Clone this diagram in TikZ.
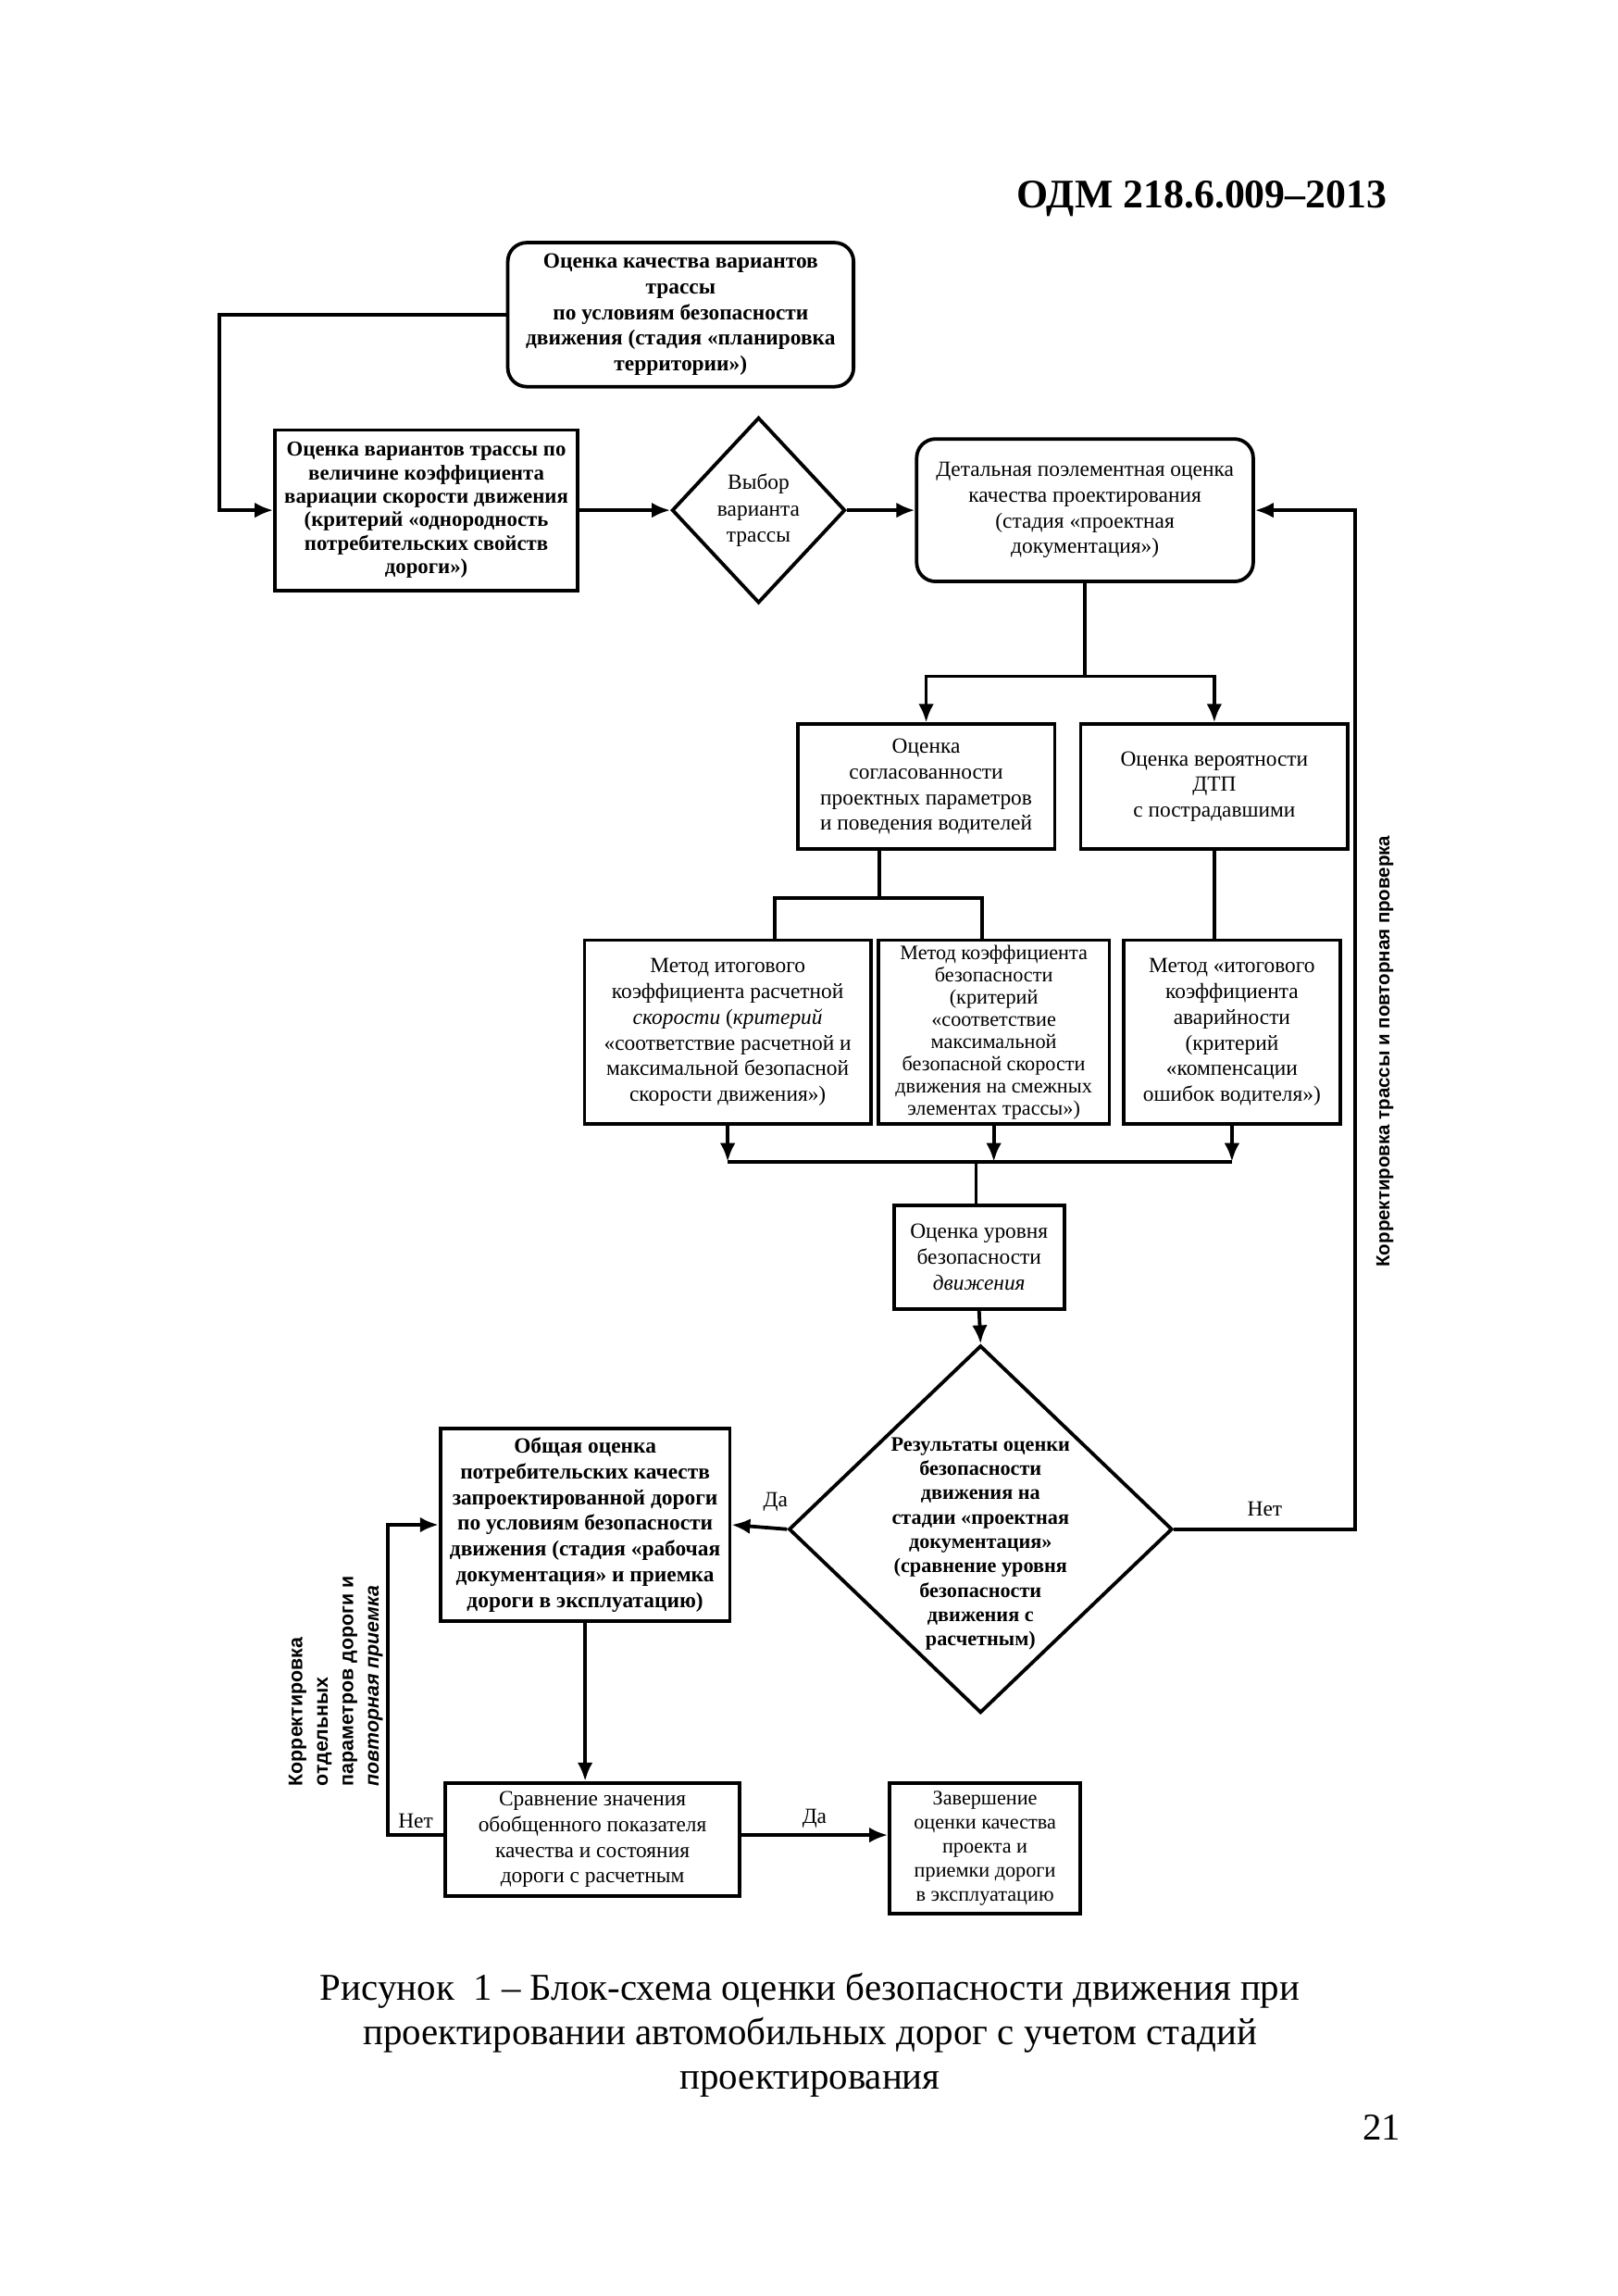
\documentclass[tikz,border=0pt]{standalone}
\usepackage{fontspec}
\setmainfont{Liberation Serif}
\setsansfont{Liberation Sans}
\usetikzlibrary{shapes.geometric,arrows.meta,positioning,calc}

\begin{document}
\begin{tikzpicture}[x=0.01909cm, y=-0.01909cm,
  blok/.style={draw, line width=1.3pt, align=center, inner sep=1pt, font=\fontsize{8}{9.5}\selectfont},
  okr/.style={blok, rounded corners=7pt},
  zhirn/.style={font=\bfseries\fontsize{8}{9.5}\selectfont},
  reshenie/.style={draw, diamond, line width=1.3pt, inner sep=0pt, align=center},
  strelka/.style={line width=1.3pt, -{Latex[length=2.4mm,width=2mm]}},
  liniya/.style={line width=1.3pt},
  metka/.style={font=\fontsize{8}{9.5}\selectfont, inner sep=2pt}]
  \useasboundingbox (0,0) rectangle (1100,1561.5);

  % Header
  \node[anchor=east, font=\rmfamily\bfseries\fontsize{15}{18}\selectfont] (shapka) at (950,135) {ОДМ 218.6.009–2013};

  % Stage 1: territory planning
  \node[okr, zhirn, minimum width=4.49cm, minimum height=1.87cm] (varianty) at (463,214)
    {Оценка качества вариантов\\ трассы\\ по условиям безопасности\\ движения (стадия «планировка\\ территории»)};
  \node[blok, zhirn, font=\bfseries\fontsize{7.8}{8.7}\selectfont, minimum width=3.93cm, minimum height=2.08cm] (variacia) at (290,347)
    {Оценка вариантов трассы по\\ величине коэффициента\\ вариации скорости движения\\ (критерий «однородность\\ потребительских свойств\\ дороги»)};
  \node[reshenie, minimum width=2.25cm, minimum height=2.41cm, font=\fontsize{8}{9.8}\selectfont] (vybor) at (516,347)
    {Выбор\\ варианта\\ трассы};
  \draw[strelka] (varianty.west) -- ++(-195,0) |- (variacia.west);
  \draw[strelka] (variacia.east) -- (vybor.west);

  % Stage 2: project documentation
  \node[okr, minimum width=4.37cm, minimum height=1.85cm] (detal) at (738,347)
    {Детальная поэлементная оценка\\ качества проектирования\\ (стадия «проектная\\ документация»)};
  \draw[strelka] (vybor.east) -- (detal.west);

  \node[blok, minimum width=3.34cm, minimum height=1.62cm] (soglas) at (630,535)
    {Оценка\\ согласованности\\ проектных параметров\\ и поведения водителей};
  \node[blok, minimum width=3.47cm, minimum height=1.62cm] (dtp) at (826,535)
    {Оценка вероятности\\ ДТП\\ с пострадавшими};
  \draw[liniya] (detal.south) -- (detal.south |- 0,460) coordinate (razvilka);
  \draw[strelka] (razvilka) -| (soglas.north);
  \draw[strelka] (razvilka) -| (dtp.north);

  % Methods
  \node[blok, minimum width=3.72cm, minimum height=2.39cm] (metod1) at (495,702)
    {Метод итогового\\ коэффициента расчетной\\ \textit{скорости} (\textit{критерий}\\ «соответствие расчетной и\\ максимальной безопасной\\ скорости движения»)};
  \node[blok, font=\fontsize{7.6}{8.2}\selectfont, minimum width=3.0cm, minimum height=2.39cm] (metod2) at (676,702)
    {Метод коэффициента\\ безопасности\\ (критерий\\ «соответствие\\ максимальной\\ безопасной скорости\\ движения на смежных\\ элементах трассы»)};
  \node[blok, minimum width=2.81cm, minimum height=2.39cm] (metod3) at (838,702)
    {Метод «итогового\\ коэффициента\\ аварийности\\ (критерий\\ «компенсации\\ ошибок водителя»)};
  \draw[liniya] ($(soglas.south)+(-32,0)$) -- ++(0,32) coordinate (razvilka2);
  \draw[liniya] ($(metod1.north)+(32,0)$) |- (razvilka2) -| ($(metod2.north)+(-8,0)$);
  \draw[liniya] (dtp.south) -- (dtp.south |- metod3.north);

  % Join of methods
  \coordinate (sbor) at (664,790);
  \draw[liniya] (metod1.south |- sbor) -- (metod3.south |- sbor);
  \draw[strelka] (metod1.south) -- (metod1.south |- sbor);
  \draw[strelka] (metod2.south) -- (metod2.south |- sbor);
  \draw[strelka] (metod3.south) -- (metod3.south |- sbor);

  % Safety level
  \node[blok, minimum width=2.21cm, minimum height=1.34cm] (uroven) at (666,855)
    {Оценка уровня\\ безопасности\\ \textit{движения}};
  \draw[liniya] (sbor) -- (sbor |- uroven.north);

  % Decision on results
  \node[reshenie, minimum width=4.98cm, minimum height=4.77cm] (rezultat) at (667,1040) {};
  \node[align=center, inner sep=0pt, font=\bfseries\fontsize{7.6}{9}\selectfont] (rezultattxt) at (667,1050)
    {Результаты оценки\\ безопасности\\ движения на\\ стадии «проектная\\ документация»\\ (сравнение уровня\\ безопасности\\ движения с\\ расчетным)};
  \draw[strelka] (uroven.south) -- (rezultat.north);

  % Loop back: correction of the route
  \coordinate (povorot) at (922,1040);
  \draw[strelka] (rezultat.east) -- node[metka, above=2pt] (net1) {Нет} (povorot) |- (detal.east);
  \node[rotate=90, font=\sffamily\bfseries\fontsize{7}{8.5}\selectfont] (korr1) at (942,715)
    {Корректировка трассы и повторная проверка};

  % Stage 3: working documentation
  \node[blok, zhirn, minimum width=3.76cm, minimum height=2.5cm] (obshaya) at (398,1037)
    {Общая оценка\\ потребительских качеств\\ запроектированной дороги\\ по условиям безопасности\\ движения (стадия «рабочая\\ документация» и приемка\\ дороги в эксплуатацию)};
  \draw[strelka] (rezultat.west) -- node[metka, above=3pt, xshift=6pt] (da1) {Да} (obshaya.east);

  \node[blok, minimum width=3.82cm, minimum height=1.47cm] (sravnenie) at (403,1251)
    {Сравнение значения\\ обобщенного показателя\\ качества и состояния\\ дороги с расчетным};
  \node[blok, font=\fontsize{7.6}{8.9}\selectfont, minimum width=2.48cm, minimum height=1.7cm] (zavershenie) at (670,1257)
    {Завершение\\ оценки качества\\ проекта и\\ приемки дороги\\ в эксплуатацию};
  \draw[strelka] (obshaya.south) -- (obshaya.south |- sravnenie.north);
  \draw[strelka] ($(sravnenie.east)+(0,-3)$) -- node[metka, above] (da2) {Да} ($(sravnenie.east -| zavershenie.west)+(0,-3)$);
  \draw[strelka] ($(sravnenie.west)+(0,-3)$) -- node[metka, above] (net2) {Нет} ++(-38,0) |- (obshaya.west);
  \node[rotate=90, anchor=north west, align=left, inner sep=0pt, font=\sffamily\bfseries\fontsize{7.3}{9.4}\selectfont] (korr2) at (196,1215)
    {Корректировка\\ отдельных\\ параметров дороги и\\ \textit{повторная приемка}};

  % Caption
  \node[align=center, font=\rmfamily\fontsize{14}{16.4}\selectfont] (podpis) at (551,1384)
    {Рисунок\ \ 1 – Блок-схема оценки безопасности движения при\\ проектировании автомобильных дорог с учетом стадий\\ проектирования};
  \node[font=\rmfamily\fontsize{14}{16}\selectfont] (stranica) at (940,1447) {21};
\end{tikzpicture}
\end{document}
